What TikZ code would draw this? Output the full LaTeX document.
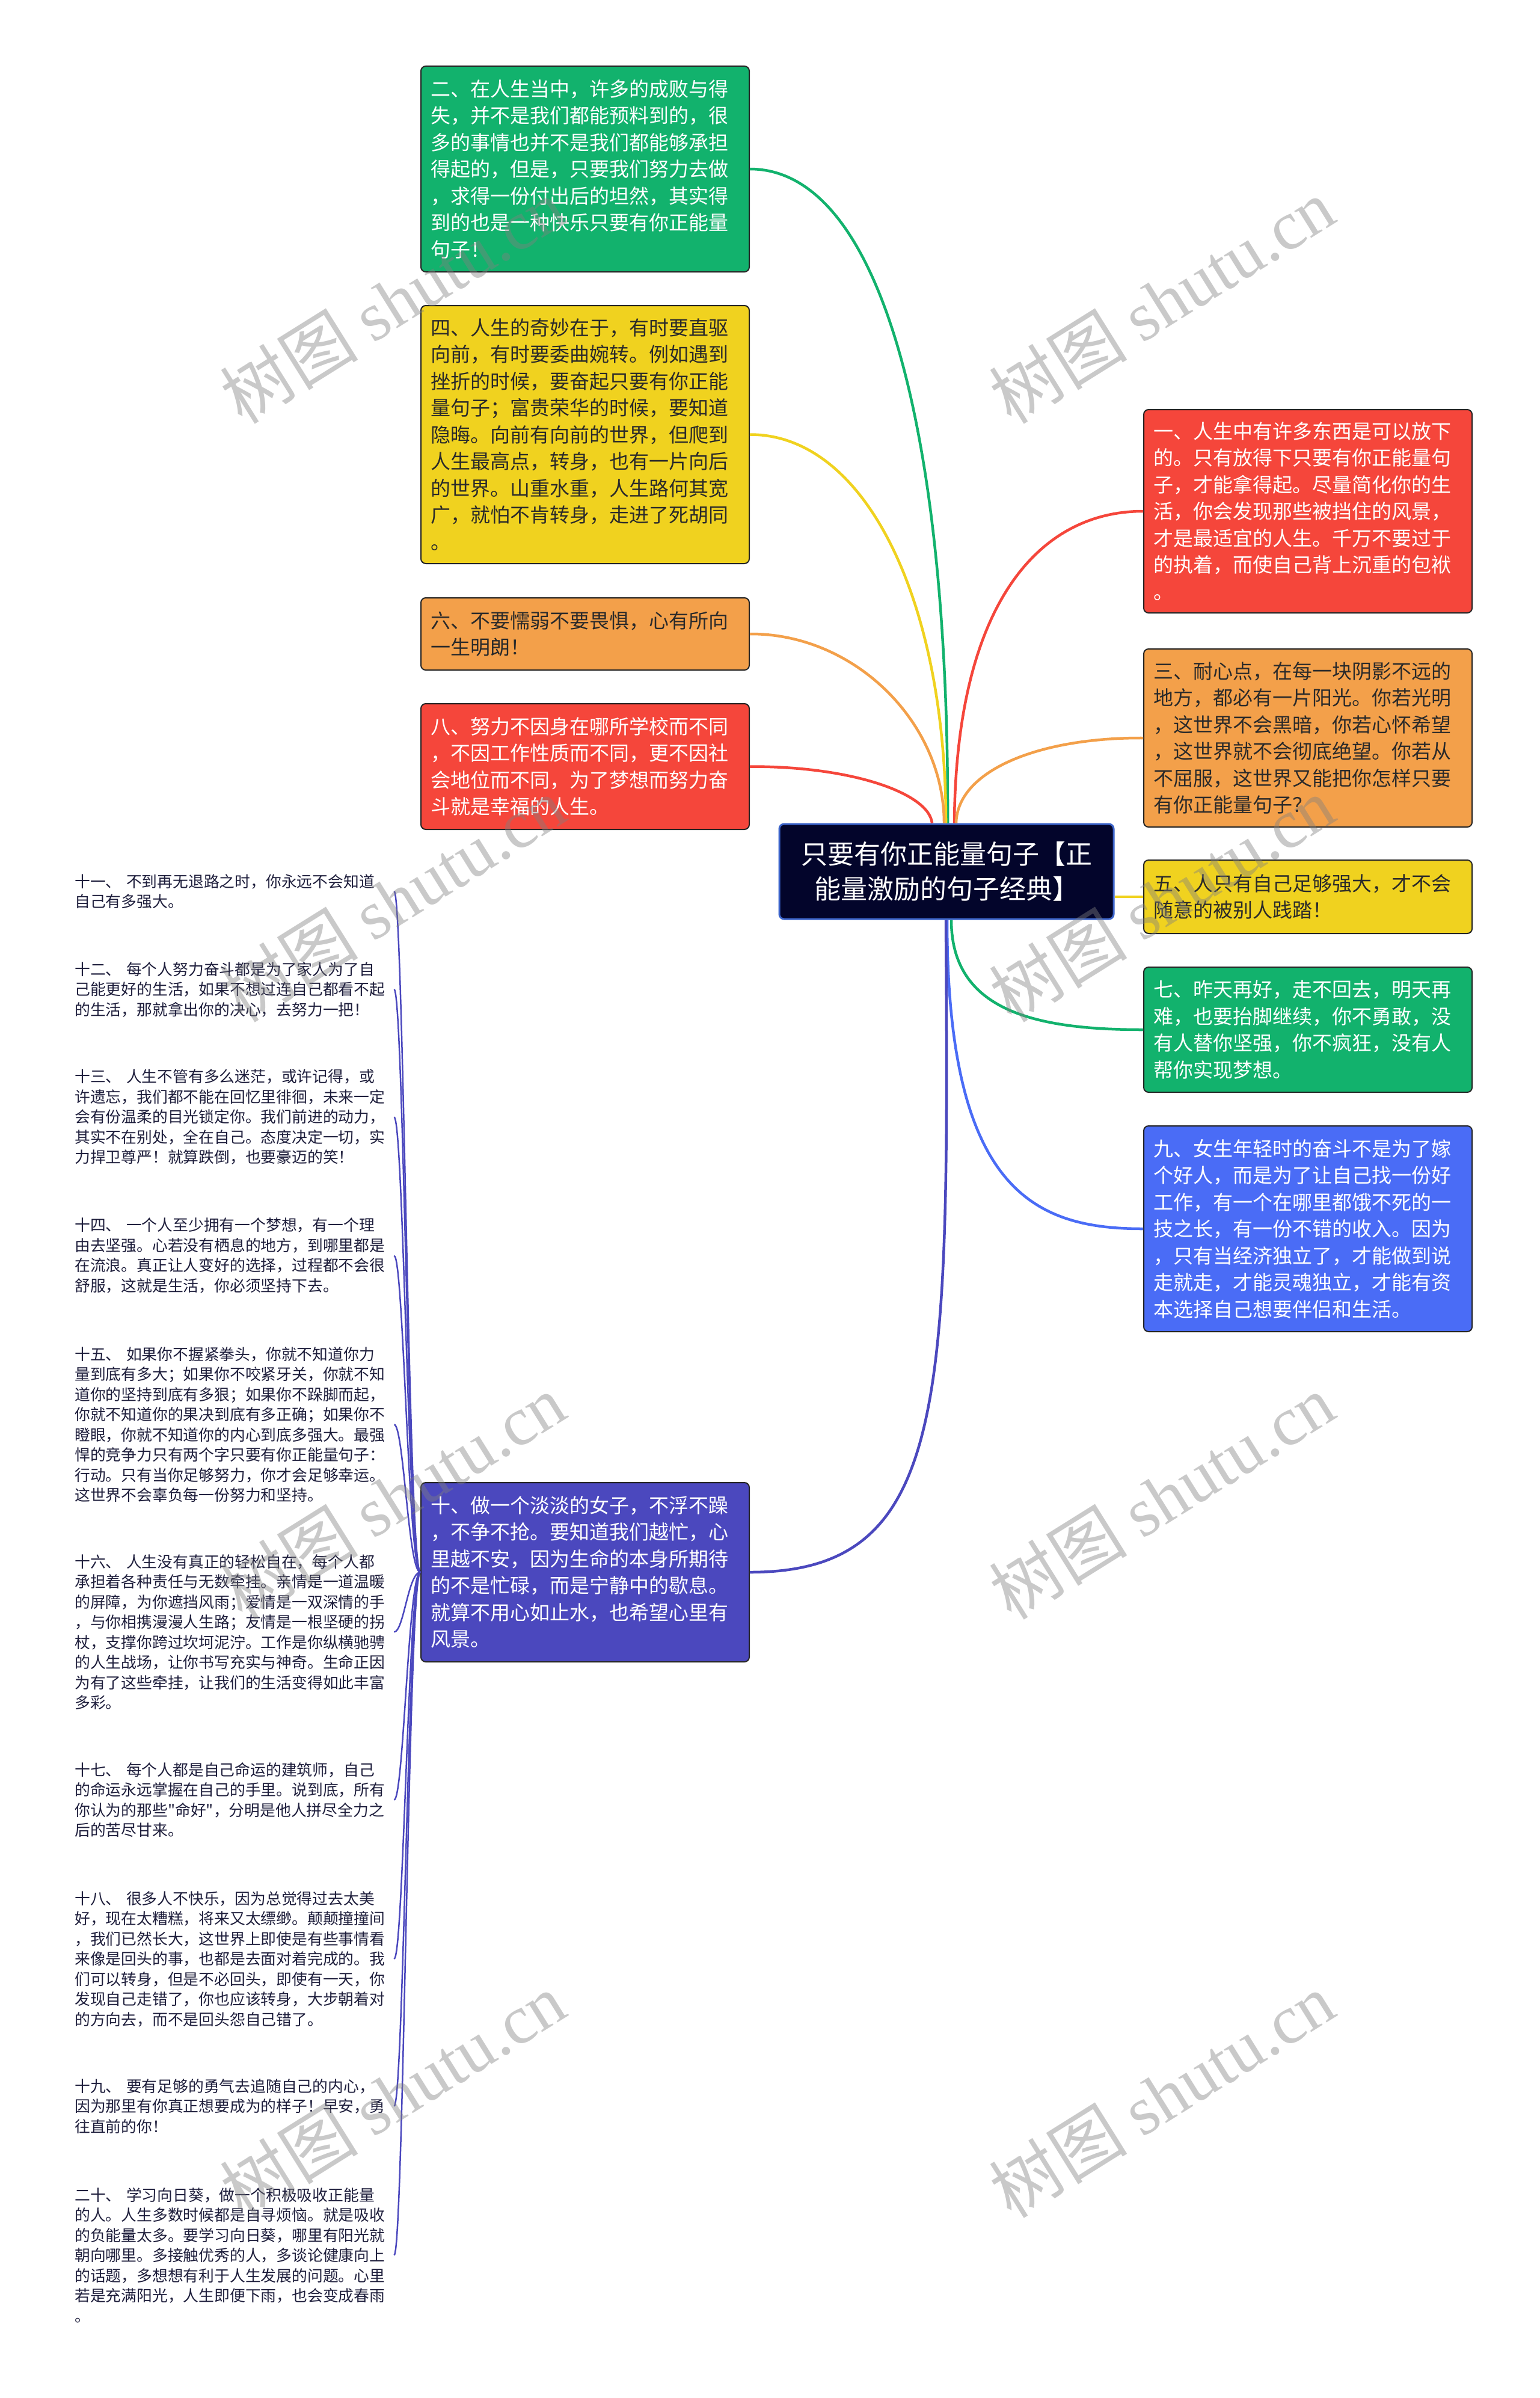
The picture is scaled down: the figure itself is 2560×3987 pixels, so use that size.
\documentclass[tikz,border=0pt]{standalone}
\usepackage{fontspec}
\setmainfont{Noto Sans CJK SC}
\newfontfamily\cjkplain{Noto Sans CJK SC}
\newfontfamily\wmserif{Liberation Serif}
\definecolor{cgreen}{HTML}{12B26D}
\definecolor{cyellow}{HTML}{F0D21F}
\definecolor{corange}{HTML}{F3A04A}
\definecolor{cred}{HTML}{F5463B}
\definecolor{cblue}{HTML}{4A6CF6}
\definecolor{cindigo}{HTML}{4B48BE}
\definecolor{croot}{HTML}{03052B}
\definecolor{crootb}{HTML}{3B63C9}
\definecolor{cdark}{HTML}{2A2A2A}
\definecolor{cleft}{HTML}{1E1E3C}
\tikzset{
  box/.style={draw=black!85, line width=2pt, rounded corners=8pt, text width=514pt,
    inner xsep=16pt, inner ysep=0pt, align=left, minimum width=546pt,
    font=\fontsize{33}{44.5}\selectfont},
  rootbox/.style={draw=crootb, line width=3pt, fill=croot, rounded corners=8pt, text=white,
    text width=500pt, inner xsep=28pt, inner ysep=0pt, align=center,
    minimum width=556pt, minimum height=158pt, font=\fontsize{44}{58}\selectfont},
  lt/.style={anchor=north west, text width=531pt, inner sep=0pt, align=left, text=cleft,
    font=\cjkplain\fontsize{25.8}{33.5}\selectfont},
  mainline/.style={line width=4.5pt},
  leftline/.style={line width=2.5pt, draw=cindigo},
  wm/.style={text=gray, text opacity=0.42, inner sep=0pt, rotate=32,
    font=\fontsize{115}{115}\selectfont}
}
\begin{document}
\begin{tikzpicture}[x=1pt,y=-1pt]
\fill[white] (0,0) rectangle (2560,3987);
\useasboundingbox (0,0) rectangle (2560,3987);

% root
\node[rootbox] (root) at (1574,1449) {只要有你正能量句子【正\\能量激励的句子经典】};

% left boxes
\node[box, fill=cgreen, text=white, minimum height=342pt] (n2) at (973,281) {二、在人生当中，许多的成败与得\\失，并不是我们都能预料到的，很\\多的事情也并不是我们都能够承担\\得起的，但是，只要我们努力去做\\，求得一份付出后的坦然，其实得\\到的也是一种快乐只要有你正能量\\句子！};
\node[box, fill=cyellow, text=cdark, minimum height=429pt] (n4) at (973,722.5) {四、人生的奇妙在于，有时要直驱\\向前，有时要委曲婉转。例如遇到\\挫折的时候，要奋起只要有你正能\\量句子；富贵荣华的时候，要知道\\隐晦。向前有向前的世界，但爬到\\人生最高点，转身，也有一片向后\\的世界。山重水重，人生路何其宽\\广，就怕不肯转身，走进了死胡同\\。};
\node[box, fill=corange, text=cdark, minimum height=120pt] (n6) at (973,1054) {六、不要懦弱不要畏惧，心有所向\\一生明朗！};
\node[box, fill=cred, text=white, minimum height=209pt] (n8) at (973,1274.5) {八、努力不因身在哪所学校而不同\\，不因工作性质而不同，更不因社\\会地位而不同，为了梦想而努力奋\\斗就是幸福的人生。};
\node[box, fill=cindigo, text=white, minimum height=298pt] (n10) at (973,2614) {十、做一个淡淡的女子，不浮不躁\\，不争不抢。要知道我们越忙，心\\里越不安，因为生命的本身所期待\\的不是忙碌，而是宁静中的歇息。\\就算不用心如止水，也希望心里有\\风景。};

% right boxes
\node[box, fill=cred, text=white, minimum height=338pt] (n1) at (2175,850) {一、人生中有许多东西是可以放下\\的。只有放得下只要有你正能量句\\子，才能拿得起。尽量简化你的生\\活，你会发现那些被挡住的风景，\\才是最适宜的人生。千万不要过于\\的执着，而使自己背上沉重的包袱\\。};
\node[box, fill=corange, text=cdark, minimum height=296pt] (n3) at (2175,1227) {三、耐心点，在每一块阴影不远的\\地方，都必有一片阳光。你若光明\\，这世界不会黑暗，你若心怀希望\\，这世界就不会彻底绝望。你若从\\不屈服，这世界又能把你怎样只要\\有你正能量句子？};
\node[box, fill=cyellow, text=cdark, minimum height=122pt] (n5) at (2175,1491) {五、人只有自己足够强大，才不会\\随意的被别人践踏！};
\node[box, fill=cgreen, text=white, minimum height=208pt] (n7) at (2175,1712) {七、昨天再好，走不回去，明天再\\难，也要抬脚继续，你不勇敢，没\\有人替你坚强，你不疯狂，没有人\\帮你实现梦想。};
\node[box, fill=cblue, text=white, minimum height=342pt] (n9) at (2175,2043) {九、女生年轻时的奋斗不是为了嫁\\个好人，而是为了让自己找一份好\\工作，有一个在哪里都饿不死的一\\技之长，有一份不错的收入。因为\\，只有当经济独立了，才能做到说\\走就走，才能灵魂独立，才能有资\\本选择自己想要伴侣和生活。};

% left texts
\node[lt] (t11) at (124,1453) {十一、 不到再无退路之时，你永远不会知道\\自己有多强大。};
\node[lt] (t12) at (124,1599) {十二、 每个人努力奋斗都是为了家人为了自\\己能更好的生活，如果不想过连自己都看不起\\的生活，那就拿出你的决心，去努力一把！};
\node[lt] (t13) at (124,1778) {十三、 人生不管有多么迷茫，或许记得，或\\许遗忘，我们都不能在回忆里徘徊，未来一定\\会有份温柔的目光锁定你。我们前进的动力，\\其实不在别处，全在自己。态度决定一切，实\\力捍卫尊严！就算跌倒，也要豪迈的笑！};
\node[lt] (t14) at (124,2025) {十四、 一个人至少拥有一个梦想，有一个理\\由去坚强。心若没有栖息的地方，到哪里都是\\在流浪。真正让人变好的选择，过程都不会很\\舒服，这就是生活，你必须坚持下去。};
\node[lt] (t15) at (124,2239) {十五、 如果你不握紧拳头，你就不知道你力\\量到底有多大；如果你不咬紧牙关，你就不知\\道你的坚持到底有多狠；如果你不跺脚而起，\\你就不知道你的果决到底有多正确；如果你不\\瞪眼，你就不知道你的内心到底多强大。最强\\悍的竞争力只有两个字只要有你正能量句子：\\行动。只有当你足够努力，你才会足够幸运。\\这世界不会辜负每一份努力和坚持。};
\node[lt] (t16) at (124,2584) {十六、 人生没有真正的轻松自在，每个人都\\承担着各种责任与无数牵挂。亲情是一道温暖\\的屏障，为你遮挡风雨；爱情是一双深情的手\\，与你相携漫漫人生路；友情是一根坚硬的拐\\杖，支撑你跨过坎坷泥泞。工作是你纵横驰骋\\的人生战场，让你书写充实与神奇。生命正因\\为有了这些牵挂，让我们的生活变得如此丰富\\多彩。};
\node[lt] (t17) at (124,2930) {十七、 每个人都是自己命运的建筑师，自己\\的命运永远掌握在自己的手里。说到底，所有\\你认为的那些"命好"，分明是他人拼尽全力之\\后的苦尽甘来。};
\node[lt] (t18) at (124,3144) {十八、 很多人不快乐，因为总觉得过去太美\\好，现在太糟糕，将来又太缥缈。颠颠撞撞间\\，我们已然长大，这世界上即使是有些事情看\\来像是回头的事，也都是去面对着完成的。我\\们可以转身，但是不必回头，即使有一天，你\\发现自己走错了，你也应该转身，大步朝着对\\的方向去，而不是回头怨自己错了。};
\node[lt] (t19) at (124,3456) {十九、 要有足够的勇气去追随自己的内心，\\因为那里有你真正想要成为的样子！早安，勇\\往直前的你！};
\node[lt] (t20) at (124,3637) {二十、 学习向日葵，做一个积极吸收正能量\\的人。人生多数时候都是自寻烦恼。就是吸收\\的负能量太多。要学习向日葵，哪里有阳光就\\朝向哪里。多接触优秀的人，多谈论健康向上\\的话题，多想想有利于人生发展的问题。心里\\若是充满阳光，人生即便下雨，也会变成春雨\\。};

% connectors
\draw[mainline, draw=cgreen] ([xshift=2pt]root.north) .. controls (1578,700) and (1460,281) .. (n2.east);
\draw[mainline, draw=cyellow] ([xshift=-1pt]root.north) .. controls (1573,1000) and (1440,722) .. (n4.east);
\draw[mainline, draw=corange] ([xshift=-4pt]root.north) .. controls (1570,1200) and (1420,1053) .. (n6.east);
\draw[mainline, draw=cred] ([xshift=-24pt]root.north) .. controls (1545,1320) and (1420,1274) .. (n8.east);
\draw[mainline, draw=cred] ([xshift=13pt]root.north) .. controls (1590,1000) and (1730,850) .. (n1.west);
\draw[mainline, draw=corange] ([xshift=16pt]root.north) .. controls (1592,1280) and (1730,1226) .. (n3.west);
\draw[mainline, draw=cyellow] (root.east |- n5.west) -- (n5.west);
\draw[mainline, draw=cgreen] ([xshift=8pt]root.south) .. controls (1582,1680) and (1720,1712) .. (n7.west);
\draw[mainline, draw=cblue] ([xshift=1pt]root.south) .. controls (1575,1980) and (1720,2043) .. (n9.west);
\draw[mainline, draw=cindigo] ([xshift=-1pt]root.south) .. controls (1578,2330) and (1580,2614) .. (n10.east);

\foreach \t in {t11,t12,t13,t14,t15,t16,t17,t18,t19,t20}
  \draw[leftline] (n10.west) .. controls +(-20,0) and +(16,0) .. (\t.east);

% watermarks
\node[wm] (w1) at (653,500) {树图 {\wmserif shutu.cn}};
\node[wm] (w2) at (1932,500) {树图 {\wmserif shutu.cn}};
\node[wm] (w3) at (653,1495) {树图 {\wmserif shutu.cn}};
\node[wm] (w4) at (1932,1495) {树图 {\wmserif shutu.cn}};
\node[wm] (w5) at (653,2488) {树图 {\wmserif shutu.cn}};
\node[wm] (w6) at (1932,2488) {树图 {\wmserif shutu.cn}};
\node[wm] (w7) at (653,3483) {树图 {\wmserif shutu.cn}};
\node[wm] (w8) at (1932,3483) {树图 {\wmserif shutu.cn}};
\end{tikzpicture}
\end{document}
